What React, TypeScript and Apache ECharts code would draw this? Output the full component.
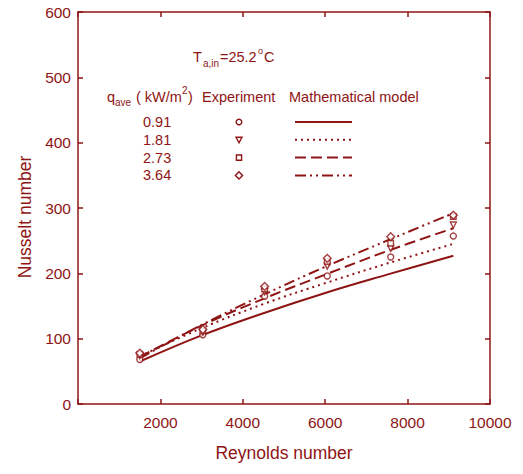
import React, { useEffect, useRef } from "react";
import * as echarts from "echarts";

// Model curves (Mathematical model)
const reModel = [1500, 3000, 4500, 6000, 7500, 9110];
const nu091Model = [65, 105, 139, 170, 198, 227];
const nu181Model = [73, 116, 153, 185, 215, 245];
const nu273Model = [72, 120, 161, 198, 234, 269];
const nu364Model = [70, 121, 167, 210, 250, 292];

// Experimental points
const reExp = [1500, 3030, 4530, 6050, 7590, 9110];
const nu091Exp = [68, 106, 165, 196, 225, 257];
const nu181Exp = [74, 110, 172, 211, 238, 274];
const nu273Exp = [76, 112, 176, 218, 246, 287];
const nu364Exp = [78, 114, 180, 223, 256, 289];

const qLabels = ["0.91", "1.81", "2.73", "3.64"];
const xTicks = [0, 2000, 4000, 6000, 8000, 10000];
const yTicks = [0, 100, 200, 300, 400, 500, 600];

const C = "#8f1414";
const FONT = "'Liberation Sans', Arial, sans-serif";

const lineTypes: any[] = ["solid", [2, 4], [11, 5], [11, 4, 2, 4, 2, 4]];
const symbols = ["circle", "triangle", "rect", "rect"];
const symbolRot = [0, 180, 0, 45];
const symbolSizes = [6, 6, 5.5, 5.5];

export default function App() {
  const ref = useRef<HTMLDivElement>(null);
  useEffect(() => {
    if (!ref.current) return;
    const chart = echarts.init(ref.current, undefined, { renderer: "svg" });
    const models = [nu091Model, nu181Model, nu273Model, nu364Model];
    const exps = [nu091Exp, nu181Exp, nu273Exp, nu364Exp];

    const series: any[] = [];
    models.forEach((m, i) => {
      series.push({
        type: "line",
        name: "model " + qLabels[i],
        data: reModel.map((r, k) => [r, m[k]]),
        showSymbol: false,
        symbol: "none",
        smooth: 0.4,
        lineStyle: { color: C, width: 2, type: lineTypes[i] },
        z: 2,
      });
    });
    exps.forEach((e, i) => {
      series.push({
        type: "scatter",
        name: "exp " + qLabels[i],
        data: reExp.map((r, k) => [r, e[k]]),
        symbol: symbols[i],
        symbolRotate: symbolRot[i],
        symbolSize: symbolSizes[i],
        itemStyle: { color: "#ffffff", borderColor: C, borderWidth: 1.4 },
        z: 5,
      });
    });

    const graphics: any[] = [];
    const txt = (x: number, y: number, text: string, size: number, extra: any = {}) => ({
      type: "text",
      x,
      y,
      style: {
        text,
        fill: C,
        font: `${size}px ${FONT}`,
        textVerticalAlign: "middle",
        verticalAlign: "middle",
        ...extra,
      },
    });
    // Temperature annotation
    graphics.push(txt(193, 57, "T", 14.5));
    graphics.push(txt(203, 63, "a,in", 10));
    graphics.push(txt(220, 57, "=25.2", 14.5));
    graphics.push(txt(258, 51, "o", 9));
    graphics.push(txt(264, 57, "C", 14.5));
    // Header row
    graphics.push(txt(107, 97, "q", 14.5));
    graphics.push(txt(115, 102, "ave", 10));
    graphics.push(txt(136, 97, "( kW/m", 14.5));
    graphics.push(txt(182, 90, "2", 10));
    graphics.push(txt(188, 97, ")", 14.5));
    graphics.push(txt(202, 97, "Experiment", 14.5));
    graphics.push(txt(289, 97, "Mathematical model", 14.5));

    qLabels.forEach((q, i) => {
      const y = 122 + i * 17.8;
      graphics.push(txt(143, y, q, 14.5));
      const mx = 239;
      const mStyle = { fill: "#fff", stroke: C, lineWidth: 1.4 };
      if (i === 0) {
        graphics.push({ type: "circle", shape: { cx: mx, cy: y, r: 2.8 }, style: mStyle });
      } else if (i === 1) {
        graphics.push({
          type: "polygon",
          shape: { points: [[mx - 3, y - 2.5], [mx + 3, y - 2.5], [mx, y + 3]] },
          style: mStyle,
        });
      } else if (i === 2) {
        graphics.push({ type: "rect", shape: { x: mx - 2.6, y: y - 2.6, width: 5.2, height: 5.2 }, style: mStyle });
      } else {
        graphics.push({
          type: "polygon",
          shape: { points: [[mx, y - 3.6], [mx + 3.6, y], [mx, y + 3.6], [mx - 3.6, y]] },
          style: mStyle,
        });
      }
      const lt = lineTypes[i];
      graphics.push({
        type: "line",
        shape: { x1: 295, y1: y, x2: 352, y2: y },
        style: {
          stroke: C,
          lineWidth: 2,
          lineDash: lt === "solid" ? null : lt,
        },
      });
    });

    graphics.push({
      type: "text",
      x: 25,
      y: 217,
      rotation: Math.PI / 2,
      style: {
        text: "Nusselt number",
        fill: C,
        font: `17.5px ${FONT}`,
        align: "center",
        verticalAlign: "middle",
        textAlign: "center",
        textVerticalAlign: "middle",
      },
    });
    graphics.push({
      type: "text",
      x: 284,
      y: 453,
      style: {
        text: "Reynolds number",
        fill: C,
        font: `17.5px ${FONT}`,
        align: "center",
        verticalAlign: "middle",
        textAlign: "center",
        textVerticalAlign: "middle",
      },
    });

    const axisCommon = {
      type: "value",
      axisLine: { show: true, onZero: false, lineStyle: { color: C, width: 1.5 } },
      axisTick: { show: true, inside: true, length: 5, lineStyle: { color: C, width: 1.5 } },
      splitLine: { show: false },
    };

    chart.setOption({
      animation: false,
      backgroundColor: "#ffffff",
      grid: { left: 78, top: 12, right: 33, bottom: 70, containLabel: false },
      xAxis: [
        {
          ...axisCommon,
          position: "bottom",
          min: xTicks[0],
          max: xTicks[xTicks.length - 1],
          interval: 2000,
          axisLabel: {
            color: C,
            fontSize: 15.5,
            fontFamily: FONT,
            margin: 10,
            formatter: (v: number) => (v === 0 ? "" : String(v)),
          },
        },
        {
          ...axisCommon,
          position: "top",
          min: xTicks[0],
          max: xTicks[xTicks.length - 1],
          interval: 2000,
          axisLabel: { show: false },
        },
      ],
      yAxis: [
        {
          ...axisCommon,
          position: "left",
          min: yTicks[0],
          max: yTicks[yTicks.length - 1],
          interval: 100,
          axisLabel: { color: C, fontSize: 15.5, fontFamily: FONT, margin: 7 },
        },
        {
          ...axisCommon,
          position: "right",
          min: yTicks[0],
          max: yTicks[yTicks.length - 1],
          interval: 100,
          axisLabel: { show: false },
        },
      ],
      series,
      graphic: graphics,
    });
    return () => chart.dispose();
  }, []);
  return (
    <div
      ref={ref}
      style={{ position: "fixed", left: 0, top: 0, width: 523, height: 474, background: "#fff" }}
    />
  );
}
